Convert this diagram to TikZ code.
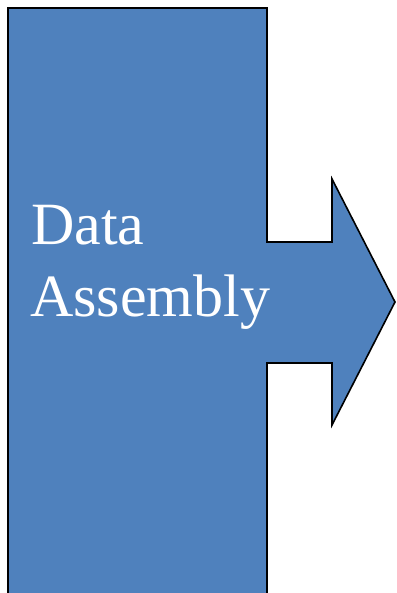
\documentclass[tikz,border=0pt]{standalone}
\usepackage{fontspec}
\setmainfont{Liberation Serif}
\definecolor{officeblue}{HTML}{4F81BD}
\begin{document}
\begin{tikzpicture}[x=1pt,y=1pt,
  shapestyle/.style={fill=officeblue,draw=black,line width=1.6pt,line join=miter},
  labelstyle/.style={text=white,font=\fontsize{60}{72}\selectfont,inner sep=0pt,anchor=base west}]
\useasboundingbox (0,0) rectangle (396,593);
\clip (0,0) rectangle (396,593);
\path[shapestyle] (8,-10) -- (8,585) -- (267,585) -- (267,351) -- (332,351) -- (332,414)
  -- (395,291) -- (332,168) -- (332,230) -- (267,230) -- (267,-10);
\node[labelstyle] (data) at (31,348) {Data};
\node[labelstyle] (assembly) at (30,276) {Assembly};
\end{tikzpicture}
\end{document}
